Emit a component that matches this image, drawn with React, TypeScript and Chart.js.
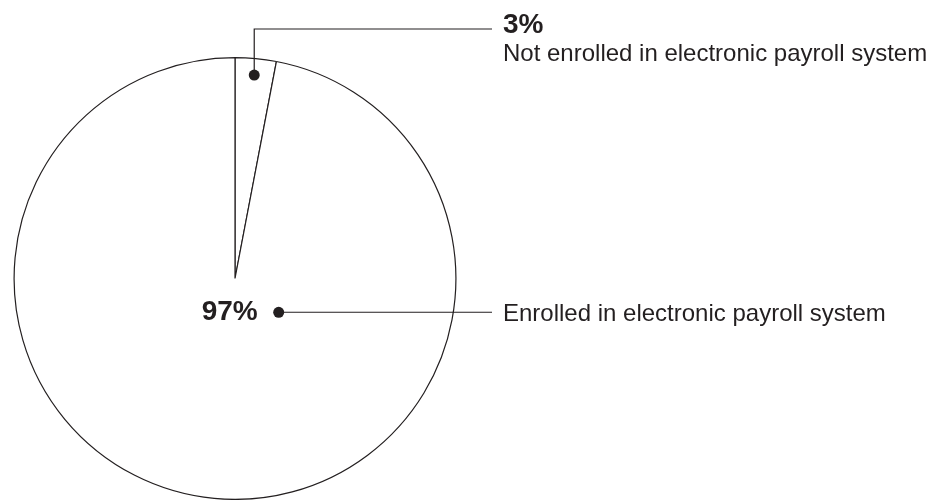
import React, { useEffect, useRef } from "react";
import { Chart, registerables } from "chart.js";

Chart.register(...registerables);

const categories = [
  "Not enrolled in electronic payroll system",
  "Enrolled in electronic payroll system",
];
const values = [3, 97];
const valueLabels = ["3%", "97%"];

const INK = "#231f20";
const FONT = '"Liberation Sans", Arial, Helvetica, sans-serif';

export default function App() {
  const ref = useRef<HTMLCanvasElement>(null);

  useEffect(() => {
    document.body.style.margin = "0";
    const canvas = ref.current;
    if (!canvas) return;

    const leaderPlugin = {
      id: "leaders",
      afterDatasetsDraw(chart: any) {
        const meta = chart.getDatasetMeta(0);
        const ctx = chart.ctx as CanvasRenderingContext2D;
        const a0 = meta.data[0] as any;
        const cx = a0.x;
        const cy = a0.y;
        const R = a0.outerRadius;
        const textX = 503;
        const lineEnd = 492;

        ctx.save();
        ctx.strokeStyle = INK;
        ctx.fillStyle = INK;
        ctx.lineWidth = 1.2;

        // Small slice label
        const mid0 = (a0.startAngle + a0.endAngle) / 2;
        const d0x = cx + Math.cos(mid0) * R * 0.925;
        const d0y = cy + Math.sin(mid0) * R * 0.925;
        const elbowY = 29;
        ctx.beginPath();
        ctx.moveTo(d0x, d0y);
        ctx.lineTo(d0x, elbowY);
        ctx.lineTo(lineEnd, elbowY);
        ctx.stroke();
        ctx.beginPath();
        ctx.arc(d0x, d0y, 5.5, 0, Math.PI * 2);
        ctx.fill();

        ctx.textAlign = "left";
        ctx.textBaseline = "alphabetic";
        ctx.font = `bold 28px ${FONT}`;
        ctx.fillText(valueLabels[0], textX, 33);
        ctx.font = `24px ${FONT}`;
        ctx.fillText(categories[0], textX, 61);

        // Large slice label
        const ang1 = (37.7 * Math.PI) / 180;
        const d1x = cx + Math.cos(ang1) * R * 0.25;
        const d1y = cy + Math.sin(ang1) * R * 0.25;
        ctx.beginPath();
        ctx.moveTo(d1x, d1y);
        ctx.lineTo(lineEnd, d1y);
        ctx.stroke();
        ctx.beginPath();
        ctx.arc(d1x, d1y, 5.5, 0, Math.PI * 2);
        ctx.fill();

        ctx.textAlign = "right";
        ctx.font = `bold 28px ${FONT}`;
        ctx.fillText(valueLabels[1], d1x - 21, d1y + 7.5);
        ctx.textAlign = "left";
        ctx.font = `24px ${FONT}`;
        ctx.fillText(categories[1], textX, d1y + 8.5);

        ctx.restore();
      },
    };

    const chart = new Chart(canvas, {
      type: "pie",
      data: {
        labels: categories,
        datasets: [
          {
            data: values,
            backgroundColor: ["#ffffff", "#ffffff"],
            borderColor: INK,
            borderWidth: 1.2,
            borderAlign: "center",
          } as any,
        ],
      },
      options: {
        animation: false,
        responsive: false,
        maintainAspectRatio: false,
        events: [],
        layout: { padding: { left: 12, top: 57, right: 488, bottom: -3 } },
        plugins: {
          legend: { display: false },
          tooltip: { enabled: false },
          title: { display: false },
        },
      } as any,
      plugins: [leaderPlugin],
    });

    return () => chart.destroy();
  }, []);

  return (
    <div style={{ width: 946, height: 500, background: "#fff", overflow: "hidden" }}>
      <canvas ref={ref} width={946} height={500} style={{ display: "block" }} />
    </div>
  );
}
